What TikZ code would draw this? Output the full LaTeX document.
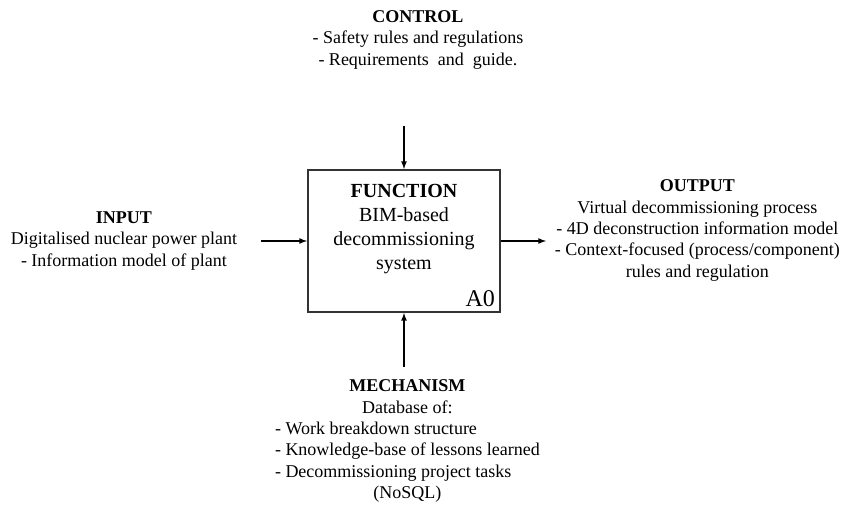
\documentclass[tikz,border=0pt]{standalone}
\usepackage{fontspec}
\setmainfont{Liberation Serif}
\usetikzlibrary{arrows}

\begin{document}
\begin{tikzpicture}[-latex,auto,node distance=150pt,
		line width=1pt,box node/.style={rectangle,draw=black!80,line width=1.5pt,
			minimum width=144pt,minimum height=106.5pt,inner sep=0pt},
		text node/.style={align=center,inner sep=0pt,
			font=\fontsize{13.5}{16}\selectfont}]
	
	\useasboundingbox (-303pt,-197.25pt) rectangle (329.25pt,180.75pt);
	
	\node[box node] (F) at (0,0) {};
	\node[text node,font=\fontsize{15}{18}\selectfont] (T) [above of=F,node distance=9pt]
		{\textbf{FUNCTION}\\BIM-based\\decommissioning\\system};
	\node[anchor=south east,inner sep=4pt,font=\fontsize{18}{20}\selectfont] (A) at (F.south east) {A0};
	
	\node[text node] (C) [above of=F,node distance=151pt,xshift=10.5pt]
		{\textbf{CONTROL}\\- Safety rules and regulations\\- Requirements\ \ and\ \ guide.};
	\node[text node] (I) [left of=F,node distance=210pt]
		{\textbf{INPUT}\\Digitalised nuclear power plant\\- Information model of plant};
	\node[text node] (O) [right of=F,node distance=220pt,yshift=8pt]
		{\textbf{OUTPUT}\\Virtual decommissioning process\\- 4D deconstruction information model\\- Context-focused (process/component)\\rules and regulation};
	\node[text node] (M) [below of=F,node distance=150pt,xshift=2.6pt]
		{\begin{tabular}{@{}l@{}}
			\multicolumn{1}{@{}c@{}}{\textbf{MECHANISM}}\\
			\multicolumn{1}{@{}c@{}}{Database of:}\\
			- Work breakdown structure\\
			- Knowledge-base of lessons learned\\
			- Decommissioning project tasks\\
			\multicolumn{1}{@{}c@{}}{(NoSQL)}
		\end{tabular}};
	
	% free ends of the arrows
	\coordinate[above of=F,node distance=86.25pt] (c);
	\coordinate[left of=F,node distance=107pt] (i);
	\coordinate[right of=F,node distance=106.5pt] (o);
	\coordinate[below of=F,node distance=94.25pt] (m);
	
	\path[-latex]
	(c) edge (F)
	(i) edge (F)
	(F) edge (o)
	(m) edge (F);
\end{tikzpicture}
\end{document}
